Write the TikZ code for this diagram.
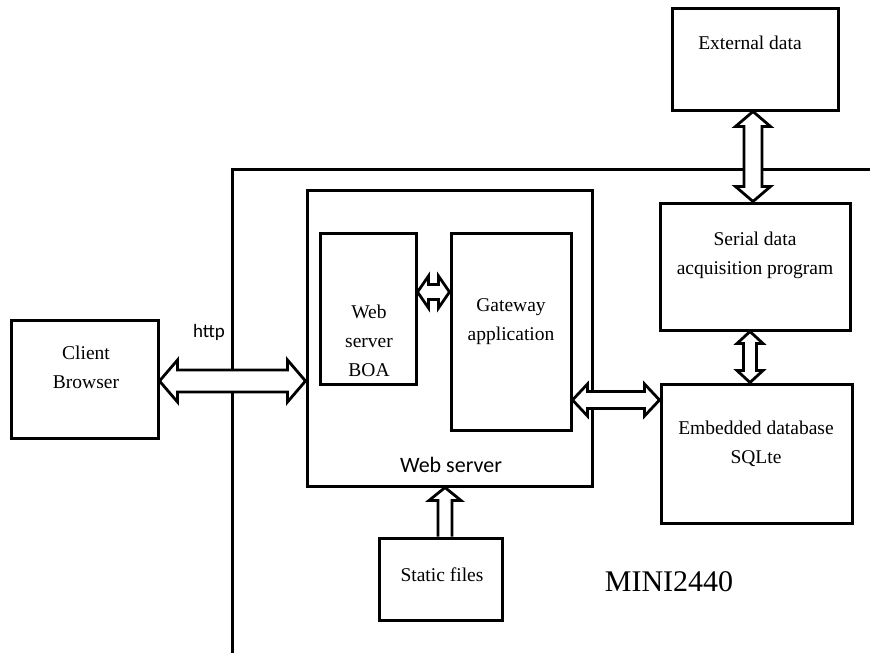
\documentclass[tikz,border=0pt]{standalone}
\usepackage{fontspec}
\setmainfont{Liberation Serif}
\newfontfamily\calfont{Carlito}
\usetikzlibrary{calc}
\tikzset{
  box/.style={draw, line width=3pt, inner sep=0pt, fill=white},
  txt/.style={font=\fontsize{19.5}{29}\selectfont, align=center, inner sep=0pt},
  arrowshape/.style={draw, line width=2.8pt, fill=white, line join=miter},
  frameline/.style={draw, line width=3pt}
}
% horizontal double arrow: #1 left end, #2 right end, #3 shaft half, #4 head half, #5 head length
\newcommand\hdbl[5]{\path[arrowshape] let \p1=(#1), \p2=(#2) in
 (\x1,\y1) -- (\x1+#5,\y1+#4) -- (\x1+#5,\y1+#3) -- (\x2-#5,\y1+#3) -- (\x2-#5,\y1+#4) -- (\x2,\y1)
 -- (\x2-#5,\y1-#4) -- (\x2-#5,\y1-#3) -- (\x1+#5,\y1-#3) -- (\x1+#5,\y1-#4) -- cycle;}
% vertical double arrow: #1 upper end, #2 lower end
\newcommand\vdbl[5]{\path[arrowshape] let \p1=(#1), \p2=(#2) in
 (\x1,\y1) -- (\x1+#4,\y1-#5) -- (\x1+#3,\y1-#5) -- (\x1+#3,\y2+#5) -- (\x1+#4,\y2+#5) -- (\x1,\y2)
 -- (\x1-#4,\y2+#5) -- (\x1-#3,\y2+#5) -- (\x1-#3,\y1-#5) -- (\x1-#4,\y1-#5) -- cycle;}
% vertical single arrow pointing up: #1 tail (lower), #2 tip (upper)
\newcommand\vup[5]{\path[arrowshape] let \p1=(#1), \p2=(#2) in
 (\x1-#3,\y1) -- (\x1-#3,\y2-#5) -- (\x1-#4,\y2-#5) -- (\x1,\y2) -- (\x1+#4,\y2-#5) -- (\x1+#3,\y2-#5) -- (\x1+#3,\y1);}
\begin{document}
\begin{tikzpicture}[x=1pt,y=-1pt]
\useasboundingbox[fill=white] (0,0) rectangle (870,653);
% outer MINI2440 frame
\coordinate (frTR) at (872,169);
\coordinate (frTL) at (232,169);
\coordinate (frBL) at (232,655);
\path[frameline] (frTR) -- (frTL) -- (frBL);
% boxes
\node[box, minimum width=147pt, minimum height=118pt] (client) at (84.5,379) {};
\node[box, minimum width=166pt, minimum height=102pt] (ext) at (755,59) {};
\node[box, minimum width=285pt, minimum height=296pt] (ws) at (449.5,338) {};
\node[box, minimum width=96pt, minimum height=151pt] (boa) at (368,308.5) {};
\node[box, minimum width=120pt, minimum height=197pt] (gw) at (511,331.5) {};
\node[box, minimum width=190pt, minimum height=127pt] (serial) at (755,266.5) {};
\node[box, minimum width=191pt, minimum height=139pt] (emb) at (756.5,453.5) {};
\node[box, minimum width=123pt, minimum height=82pt] (static) at (440.5,579) {};
% texts
\node[txt] (tclient) at (86,367) {Client\\Browser};
\node[txt] (text) at (750,43) {External data};
\node[txt] (tboa) at (369,340.5) {Web\\server\\BOA};
\node[txt] (tgw) at (511,322) {Gateway\\application};
\node[txt] (tserial) at (755,255) {Serial data\\acquisition program};
\node[txt] (temb) at (756,444) {Embedded database\\SQLte};
\node[txt] (tstatic) at (442,575) {Static files};
\node[inner sep=0pt, font=\calfont\fontsize{19}{23}\selectfont] (http) at (209,332) {http};
\node[inner sep=0pt, font=\calfont\fontsize{22}{27}\selectfont] (twsl) at (451,465) {Web server};
\node[inner sep=0pt, font=\fontsize{30}{36}\selectfont] (mini) at (669,582) {MINI2440};
% arrows
\hdbl{client.east |- 0,381}{ws.west |- 0,381}{11pt}{21pt}{18pt}
\hdbl{boa.east |- 0,292}{gw.west |- 0,292}{7.5pt}{16pt}{11pt}
\hdbl{gw.east |- 0,400}{emb.west |- 0,400}{8.5pt}{16pt}{15pt}
\vdbl{ext.south -| 753,0}{serial.north -| 753,0}{9pt}{17.5pt}{15pt}
\vdbl{serial.south -| 750,0}{emb.north -| 750,0}{6.5pt}{13pt}{12pt}
\vup{static.north -| 445,0}{ws.south -| 445,0}{7pt}{16pt}{13pt}
\end{tikzpicture}
\end{document}
